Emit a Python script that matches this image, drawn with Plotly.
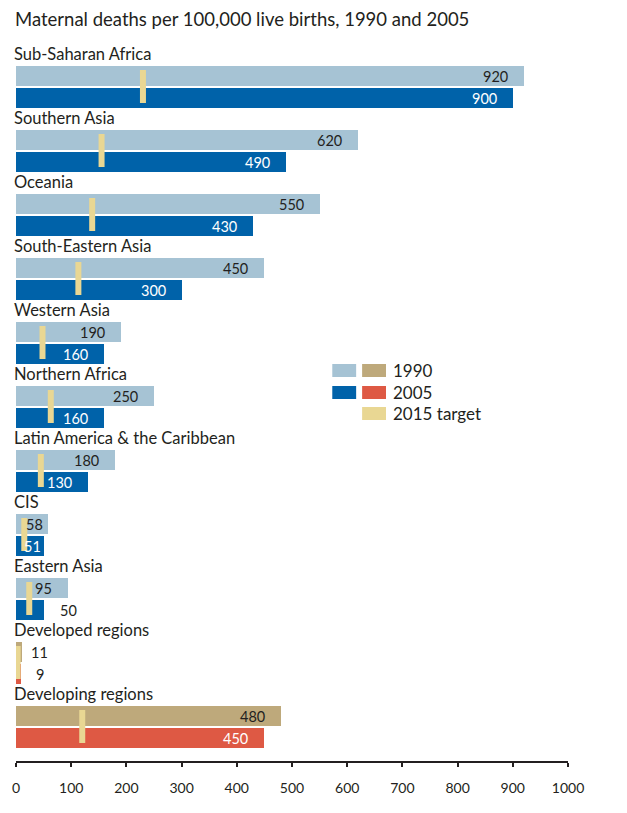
import plotly.graph_objects as go

regions = ["Sub-Saharan Africa", "Southern Asia", "Oceania", "South-Eastern Asia",
           "Western Asia", "Northern Africa", "Latin America & the Caribbean", "CIS",
           "Eastern Asia", "Developed regions", "Developing regions"]
v1990 = [920, 620, 550, 450, 190, 250, 180, 58, 95, 11, 480]
v2005 = [900, 490, 430, 300, 160, 160, 130, 51, 50, 9, 450]
target2015 = [230, 155, 138, 113, 48, 63, 45, 15, 24, 3, 120]
ticks = list(range(0, 1001, 100))
legend_labels = ["1990", "2005", "2015 target"]
title = "Maternal deaths per 100,000 live births, 1990 and 2005"

# styles
C1990 = "#a6c3d4"; C2005 = "#0062a9"
C1990_alt = "#bea97b"; C2005_alt = "#de5944"
CTGT = "#e9d793"; TXT = "#231f20"
FONT = "Lato"
alt = [False] * 9 + [True, True]

# label placement (anchor, pixel shift)
lab1990 = [("right", -14)] * 7 + [("right", -3), ("right", -14), ("left", 7), ("right", -14)]
lab2005 = [("right", -14)] * 7 + [("right", -1), ("left", 14), ("left", 13), ("right", -14)]

PITCH = 64
TOP = 87
centers = [TOP + PITCH * i for i in range(len(regions))]
PLOT_TOP, PLOT_BOT = 30, 761

fig = go.Figure()
fig.add_trace(go.Bar(orientation="h", x=v1990, y=[c - 11 for c in centers], width=20,
                     marker=dict(color=[C1990_alt if a else C1990 for a in alt], line=dict(width=0)),
                     hoverinfo="skip"))
fig.add_trace(go.Bar(orientation="h", x=v2005, y=[c + 11 for c in centers], width=20,
                     marker=dict(color=[C2005_alt if a else C2005 for a in alt], line=dict(width=0)),
                     hoverinfo="skip"))
tx, ty = [], []
for t, c in zip(target2015, centers):
    tx += [t, t, None]
    ty += [c - 17, c + 16, None]
fig.add_trace(go.Scatter(x=tx, y=ty, mode="lines", line=dict(color=CTGT, width=6),
                         hoverinfo="skip", cliponaxis=False))

ann = []
ann.append(dict(text=title, x=0, y=(PLOT_BOT - 19) / (PLOT_BOT - PLOT_TOP), xref="x", yref="paper",
                xanchor="left", yanchor="middle",
                showarrow=False, font=dict(family=FONT, size=18.5, color=TXT), xshift=-3))
for i, (name, c) in enumerate(zip(regions, centers)):
    ann.append(dict(text=name, x=0, y=c - 33, xref="x", yref="y", xanchor="left", yanchor="middle",
                    showarrow=False, font=dict(family=FONT, size=16.5, color=TXT), xshift=-4))
    a, s = lab1990[i]
    ann.append(dict(text=str(v1990[i]), x=v1990[i], y=c - 11, xref="x", yref="y", xanchor=a,
                    yanchor="middle", xshift=s, showarrow=False,
                    font=dict(family=FONT, size=14.5, color=TXT)))
    a, s = lab2005[i]
    col = "white" if a == "right" else TXT
    ann.append(dict(text=str(v2005[i]), x=v2005[i], y=c + 11, xref="x", yref="y", xanchor=a,
                    yanchor="middle", xshift=s, showarrow=False,
                    font=dict(family=FONT, size=14.5, color=col)))

# legend (pixel-based positions converted to data units)
PXU = 555 / 1000.0
def px2x(px):
    return (px - 13) / PXU

shapes = []
rows = [(364, 377, [C1990, C1990_alt]), (386, 399, [C2005, C2005_alt]), (407, 420, [None, CTGT])]
for (y0, y1, cols), lab in zip(rows, legend_labels):
    for (x0, x1), col in zip([(331, 355), (361, 385)], cols):
        if col is None:
            continue
        shapes.append(dict(type="rect", xref="x", yref="y", x0=px2x(x0), x1=px2x(x1), y0=y0, y1=y1,
                           fillcolor=col, line=dict(width=0), layer="above"))
    ann.append(dict(text=lab, x=px2x(390), y=(y0 + y1) / 2, xref="x", yref="y", xanchor="left",
                    yanchor="middle", showarrow=False, font=dict(family=FONT, size=17, color=TXT)))

fig.update_layout(
    width=627, height=813, margin=dict(l=13, r=59, t=PLOT_TOP, b=813 - PLOT_BOT),
    paper_bgcolor="white", plot_bgcolor="white", barmode="overlay", showlegend=False,
    bargap=0, annotations=ann, shapes=shapes,
    xaxis=dict(range=[0, 1000], tickvals=ticks, ticktext=[str(t) for t in ticks],
               showgrid=False, zeroline=False, showline=True, linecolor=TXT, linewidth=2,
               ticks="outside", ticklen=4, tickwidth=1.5, tickcolor=TXT,
               tickfont=dict(family=FONT, size=14, color=TXT), ticklabelstandoff=9,
               fixedrange=True),
    yaxis=dict(range=[PLOT_BOT, PLOT_TOP], visible=False, showgrid=False, zeroline=False,
               fixedrange=True),
)
fig.write_html("out.html")
